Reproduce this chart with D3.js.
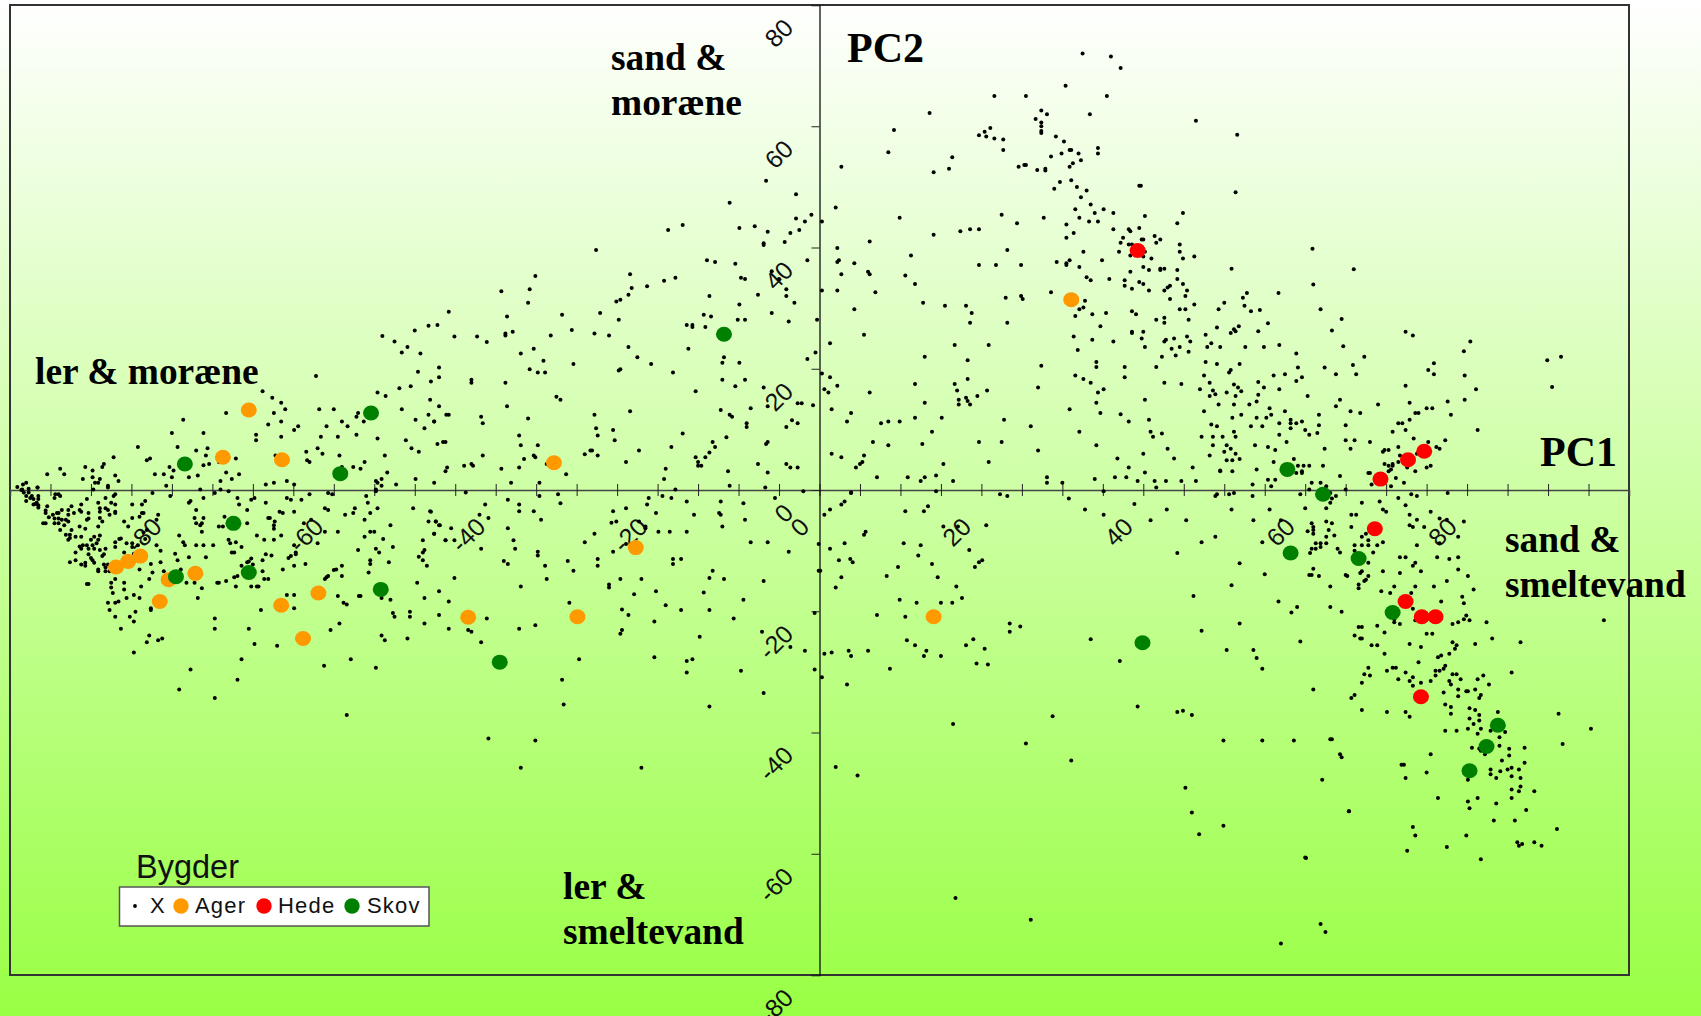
<!DOCTYPE html>
<html>
<head>
<meta charset="utf-8">
<title>Bygder PC1 PC2</title>
<script src="https://cdn.jsdelivr.net/npm/d3@7"></script>
<style>
body { margin: 0; background: #fff; overflow: hidden; }
svg { display: block; }
.lab { font-family: "Liberation Serif", serif; font-weight: bold; font-size: 37.4px; fill: #000; }
.pc { font-size: 42px; }
.tick-lab { font-family: "Liberation Sans", sans-serif; font-size: 25px; fill: #111; }
.leg { font-family: "Liberation Sans", sans-serif; font-size: 22px; letter-spacing: 1.2px; fill: #111; }
</style>
</head>
<body>
<svg id="chart" width="1701" height="1016"></svg>
<script>
// PC1, PC2
const ager = [[-70.5,13.2],[-73.7,5.4],[-66.4,5],[-32.8,4.5],[-22.7,-9.5],[-83.9,-10.9],[-85.4,-11.8],[-86.9,-12.7],[-80.4,-14.8],[-77.1,-13.75],[-81.5,-18.4],[-66.5,-19],[-61.9,-17],[-63.8,-24.5],[-43.4,-21],[-29.9,-20.9],[14.1,-20.9],[31.1,31.4]]
const hede = [[39.3,39.5],[74.7,6.4],[72.7,5],[69.3,1.8],[68.6,-6.4],[72.4,-18.4],[74.4,-20.9],[76.1,-20.9],[74.3,-34.1]]
const skov = [[-55.4,12.7],[-78.4,4.3],[-59.2,2.7],[-72.4,-5.5],[-79.5,-14.3],[-70.5,-13.6],[-54.2,-16.4],[-39.5,-28.4],[-11.8,25.7],[57.8,3.4],[62.2,-.7],[58.2,-10.4],[66.6,-11.3],[70.8,-20.2],[39.9,-25.2],[83.8,-38.8],[82.4,-42.3],[80.3,-46.3]]

const xTop = [[21.6,65],[13.6,62.2],[9.2,59.4],[19.7,58.5],[20.4,59.1],[21.1,59.7],[20.6,58.3],[21.6,58],[8.5,55.7],[16.4,54.9],[16,53],[14.1,52.4],[2.7,53.3],[-6.6,51],[-2.9,48.8],[32.5,72],[36,71.5],[37.2,69.6],[30.4,66.7],[25.5,65],[35.5,65],[27.4,62.6],[28.1,62],[26.7,61.2],[33.4,62],[27.4,60.6],[27.4,60],[27.4,59.2],[27.4,58.9],[46.5,60.9],[51.6,58.6],[22.7,57.8],[22.7,56.1],[29.2,58.3],[30.2,57.5],[34.4,56.4],[34.4,55.5],[30.9,56.1],[31.1,56.1],[29.9,55.5],[32,55.5],[28.6,55],[32.3,54.4],[31.3,53.9],[30.9,53.3],[24.6,53.3],[25.3,53.6],[25.5,53.6],[26.9,52.8],[27.9,53],[27.9,52.7],[29.7,50.8],[31.1,51.1],[29,49.7],[31.8,50],[33,49.4],[39.5,50.2],[39.7,50.2],[51.4,49.1],[32.3,48.3]]
const xUpperMid = [[2,46.6],[.3,44.3],[9.9,44.9],[22.5,45.4],[24.4,44],[27.7,44.9],[31.6,46.3],[33.5,47.1],[34,45.7],[35.1,46.3],[36.3,45.7],[32.1,44.9],[33.3,44.3],[34.4,44.3],[30.5,43.8],[40.2,45.2],[44.9,45.7],[44.2,44],[14.1,42.1],[17.4,42.7],[18.6,43],[19.7,43],[31.4,42.4],[30.5,41.6],[36.3,43],[38.2,43],[38.4,42.7],[39.5,43.2],[37.5,41.6],[37.2,40.8],[38.2,40.5],[38.6,40.5],[39.8,41.3],[40,41.3],[41.4,41.9],[42.1,41.3],[41.6,40.8],[37,39.3],[38.4,38.7],[40.2,39.3],[40,38.5],[41,38.2],[32.6,39.3],[34.9,37.9],[44.5,40.5],[44.5,39.3],[44.9,38.2],[46.3,38.5],[6.2,41],[2.2,39.9],[2.2,37.6],[2.4,37.9],[4.3,37.4],[11.3,38.7],[23.2,39.6],[19.7,37.1],[21.8,37.1],[24.9,37.1],[29.3,37.6],[30.5,37.4],[30.5,37.1],[30.9,37.9],[32.1,36.8],[40,36.8],[40.7,36.3],[42.1,36.5],[42.1,36.3],[42.6,36.5],[44.2,36.3],[38.4,36],[2.7,35.6],[6,36],[6.2,35.6],[10.6,35.4],[33,35.1],[33.5,34.6],[35.8,34.8],[37.7,34.6],[39.5,34.3],[40,34],[37.7,33.7],[38.6,33.2],[40.7,32.9],[44.2,34.8],[44.9,34],[43.3,33.7],[43,33.4],[42.6,32.9],[45.4,32.9],[45.2,32],[43.3,31.5],[46.3,30.6],[.3,32.9],[2.2,32.9],[11.8,34],[6.9,32.6],[23,31.7],[24.9,32],[25.1,31.5],[28.6,32.6],[32.8,31.2],[12.8,30.9],[15.5,30.4],[18.1,30.4],[4.3,29.8],[18.8,29.2],[18.6,27.6],[23.2,27.6],[32.1,29.8],[32.6,30.1],[31.6,28.7],[33.7,29],[35.4,29.2],[34.7,27],[38.6,29.5],[39.1,29],[44.5,29.8],[45.2,29.8],[45.6,28.1],[42.6,28.4],[42.6,27.6],[41.6,28.1],[49.3,29.8],[49.1,26.8],[5.5,25.6],[1.3,24.2],[16.7,23.9],[20.9,23.9],[31.4,25.3],[33.7,24.8],[36.3,24.5],[38.6,26.1],[38.6,25.9],[40,26.1],[39.8,25],[40.2,23.6],[42.6,24.5],[42.8,24.8],[43.8,25],[45.4,25.3],[45.8,24.5],[44.5,23.6],[43.5,23.3],[45.6,22.8],[44,22.2],[42.3,22],[47.7,25.6],[48.4,24.2],[47.9,23.6],[49.5,23.6],[31.9,23.1],[13,22],[18.3,21.4],[27.4,20.5],[34.2,21.1],[34.2,20.3],[37.7,20.3],[41.6,20.3],[47.7,21.1],[49.1,20.8],[.3,19.2],[1.3,18.6],[2.2,17.2],[.6,16.6],[1.1,16.1],[6.2,16.1],[11.8,17.5],[16.7,17.5],[18.3,18.3],[17,16.4],[20.7,16.4],[19.5,15.5],[18.1,15.2],[18.3,14.7],[17.2,14.9],[17.2,14.1],[18.6,14.1],[13,14.4],[27,16.9],[31.6,18.9],[32.6,18.3],[33.5,17.7],[35.1,16.6],[34.4,16.1],[34.2,14.4],[37.7,18.6],[40.2,14.9],[42.6,17.7],[44.7,17.5],[47.5,18.9],[48.2,17.7],[47,16.6],[48.6,16.4],[48.9,15.8],[48.2,15.5],[49.3,14.1],[47.5,13],[1.5,13.3],[3.9,12.7],[3.4,11.3],[7.6,11],[8.5,11.3],[9.9,11.3],[11.8,11.9],[15.1,11.9],[22.8,11.6],[26.1,10.5],[30.9,13.3],[34.7,12.7],[37.2,12.5],[38.2,11.3],[40.7,11.6],[13.9,9.6],[32.1,9.6],[40.9,9.6],[41.2,8.8],[42.3,9.3],[48.4,10.8],[49.1,10.5],[47.2,8.8],[48.6,8.8],[6.6,7.9],[8.5,7.4],[12.7,7.6],[19.7,7.9],[22.5,7.9],[27,6.5],[34.2,7.4],[43,6.8],[48.6,7.4],[1.5,6],[2.7,5.4],[5.5,5.7],[5.3,4.6],[5,4.3],[4.5,3.7],[15.3,4.3],[20.9,4.6],[36.8,5.2],[40,6],[43.8,5.2],[48.2,5.7],[38.2,3.7],[46.1,3.7],[49.5,3.2],[7.1,2.1],[10.9,2.1],[12.5,1.5],[13,2.1],[14.4,2.4],[16.5,1.5],[28.1,2.1],[28.1,1.2],[30,1.2],[34,1.8],[36.5,2.1],[37.9,2.1],[39.3,1.5],[40.2,2.9],[41.4,1.5],[42.8,1.5],[44.7,1.5],[46.5,1.5],[41.6,.4],[3.9,-.5],[14.4,-.2],[35.1,-.2],[22.3,-.7],[23.2,-1],[49.1,-.7],[48.9,-1]]
const xUpperRight = [[50.9,36.5],[52.8,32.5],[52.3,31.7],[52.5,30.4],[53.3,29.5],[54.4,29.7],[56.7,32.5],[55.4,27.5],[51.8,27],[50,30.9],[60.9,39.8],[66,36.4],[61,33.9],[61.9,29.8],[64.5,28.2],[72.4,26.1],[73.3,25.5],[80.4,24.5],[79.6,22.9],[89.9,21.4],[91.6,22],[90.5,17],[63.3,26.3],[51.2,26.5],[51.4,26.2],[50.8,25.9],[54.2,26.2],[64.7,23.7],[67.3,22],[56.8,23.9],[58.9,22.5],[54.9,23.6],[52.6,23.6],[51.9,20.8],[59.1,20.2],[62.4,20.2],[65.9,20.6],[63.8,19.1],[66.3,19.1],[75.9,20.9],[75.2,19.8],[75.9,19.1],[79.7,18.9],[81.1,16.6],[79.7,14.9],[77.6,14.6],[78,12.4],[81.3,9.9],[50.6,19.4],[50.8,19.8],[56.1,18.9],[57.5,19.1],[59.6,18.6],[58.9,18],[54.2,17.8],[54.9,16.9],[56.8,16.6],[51.7,16.9],[51.2,17.4],[52.1,16.3],[50.3,16.1],[51.4,15.5],[54.2,15.7],[54,14.6],[60.3,15.5],[72.4,17.2],[64.3,14.9],[63.8,13.8],[65.6,13],[66.8,12.7],[69,14.1],[72.9,14.4],[75,13.5],[75.7,13.5],[73.6,12.7],[74,12.7],[72.9,11.6],[51.2,14.1],[53.1,14.1],[55.6,13.5],[55.8,12.4],[57.5,13],[52.1,12.4],[51,11.9],[54,11.9],[55.2,11.9],[61.7,12.4],[58.2,11.6],[59.6,11.3],[58.2,11],[56.8,11],[58.9,11],[61.7,10.7],[65,10.7],[71.5,11],[72,11],[53.3,10.5],[54.7,10.5],[58.2,10.2],[60,9.9],[51.2,9.6],[70.8,9.6],[72.4,9.9],[51.4,8.8],[56.8,9.1],[60.5,9.1],[61.5,9.4],[49.8,8.8],[57.7,7.9],[65,8.2],[66.1,8.2],[68,7.9],[73.4,8.5],[77.3,8.2],[75.2,7.9],[50.3,7.4],[50.8,6.8],[53.8,7.4],[55.4,7.1],[56.3,6.6],[62.4,6.8],[65.6,6.8],[71.5,7.1],[76.2,7.1],[76.6,6.8],[50,6.3],[51.4,6],[69.6,6.3],[69.8,6.6],[70.3,6.6],[73.8,6],[71.7,5.7],[50.3,4.9],[51,4.9],[51.9,5.1],[58.6,5.1],[56.1,4.6],[59.1,4],[59.8,4],[60.5,4],[62.2,4],[69.8,4.3],[70.3,4],[70.8,4.3],[71.5,4.6],[70.8,4],[70.6,3.4],[70.3,3.1],[72.6,3.7],[73.6,3.1],[75,3.7],[75.5,4],[49.5,3.1],[51,3.1],[54,3.4],[58.9,2.8],[59.6,3.1],[59.6,2.8],[64.3,2.3],[67.8,2.8],[68,2.8],[71.2,2],[55.4,1.7],[56.3,1.7],[60.8,1.2],[61.9,1.2],[53.5,.9],[55.8,.6],[62.6,.6],[72.2,1.2],[68.2,.9],[70.6,.6],[60.5,.1],[65,.1],[50.6,-.7],[51.2,-.5],[53.5,-1],[59.4,-.7],[63.1,-.5],[63.8,-1],[63.3,-1.4],[71.5,-1.3],[73.1,-.7],[73.8,-1],[77.6,-.5]]
const xLowerRight = [[60,-3],[63.1,-2.1],[62.6,-3],[67,-2.1],[69.2,-1.9],[69.6,-3.2],[70,-3.6],[72.4,-2.5],[75.5,-3.6],[65.7,-4.1],[66.3,-4.1],[72.9,-4.1],[73.8,-4.9],[76.6,-4.7],[77.5,-4.9],[79.6,-5.2],[60.8,-5.5],[61,-6.1],[61,-6.6],[61,-7.2],[62.6,-5.2],[63.3,-5.5],[62.9,-6.6],[62.6,-7.7],[63.6,-7.5],[65.7,-6.1],[67.5,-7.2],[67,-7.7],[67.8,-8.3],[72.9,-5.8],[73.3,-6.1],[74.7,-6.1],[78.9,-7.7],[76.6,-8.8],[69.6,-8.6],[68.9,-9.1],[67.8,-9.1],[67,-9.1],[66.1,-9.1],[73.8,-9.1],[61.3,-8.8],[61.9,-8.8],[62.6,-8.8],[60.8,-9.7],[61.3,-9.7],[61.9,-9.4],[64,-9.7],[64.3,-10.3],[66.1,-10],[68.4,-10.3],[71.7,-11.1],[72.4,-11.1],[76.3,-11.1],[77.8,-11.4],[78.9,-11.1],[67.8,-12],[73.6,-12],[73.3,-12.5],[78.9,-13.1],[67,-13.4],[66.8,-13.7],[69.6,-13.4],[71.7,-13.7],[74.3,-13.4],[60.5,-14],[60.8,-14],[61.7,-14.2],[65,-14],[65.2,-14.2],[67.8,-14.2],[67.5,-14.8],[67.3,-15],[80.1,-14.2],[77.5,-15],[66.6,-15.6],[66.6,-16.2],[63.1,-15.9],[71,-15.9],[73.6,-15.9],[75.9,-15.9],[80.8,-16.4],[69.4,-16.7],[70.5,-17],[73.1,-17],[79.4,-17.6],[76.8,-18.4],[79.6,-18.7],[63.1,-19.3],[64.5,-20.1],[73.3,-19.6],[71,-21.3],[71,-21.8],[71.7,-22.1],[68.9,-22.4],[73.6,-21.5],[78.2,-22.1],[78.9,-21.8],[79.6,-21.3],[79.9,-20.7],[80.3,-21.5],[82.4,-21.8],[96.9,-21.5],[66.6,-22.6],[67,-22.6],[66.1,-24],[69.8,-23.5],[75,-23.7],[75.7,-23.7],[59.4,-25],[66.8,-24.5],[67,-24.5],[68.2,-25.6],[68.9,-25.6],[72.9,-25.4],[74.3,-25.9],[78.2,-25.1],[78.7,-25.6],[78.5,-26.2],[81,-25.4],[83.1,-24.5],[86.6,-25.1],[69.8,-27],[77.8,-27],[76.8,-27.3],[76.4,-27.6],[74,-28.4],[77.3,-29],[77.1,-29.5],[76.6,-29.8],[76.1,-29.8],[76.1,-30.6],[67.8,-29.3],[70.8,-29.3],[71.2,-29.3],[70.1,-29.8],[72.4,-30.1],[67.3,-30.4],[68,-30.6],[71.5,-31.2],[72.9,-31.5],[73.3,-30.9],[73.3,-32.3],[74.3,-31.8],[75.5,-31.5],[67,-31.8],[78.2,-30.4],[78.7,-30.4],[79.2,-31.2],[77.8,-31.5],[78,-32.1],[81.3,-31.2],[82,-30.6],[82.7,-32.1],[85.5,-30.1],[61,-32.9],[78.9,-32.9],[79.9,-33.2],[80.1,-33.2],[81,-32.9],[77.1,-33.4],[78.9,-34],[81.7,-33.8],[81.5,-34.3],[66.1,-33.8],[65.7,-34.3],[77.3,-35.4],[78,-35.8],[80.3,-36],[81,-36.3],[67,-36.3],[70.1,-36.6],[72.4,-36.6],[83.8,-36.6],[78,-36.9],[81.5,-37.1],[72.9,-37.4],[91.3,-36.9],[80.3,-37.7],[81.5,-38],[80.8,-38.6],[77.3,-39.7],[78.7,-39.7],[80.1,-39.4],[81.7,-39.4],[82.9,-39.7],[81.3,-40.2],[84.7,-39.9],[95.3,-39.4],[63.1,-41.1],[84,-40.8],[80.6,-42.5],[81.5,-42.7],[81.7,-43],[84,-42.2],[85.2,-42.7],[87.1,-42.5],[91.8,-41.9],[82.2,-43.6],[85.2,-43.8],[64.3,-43.6],[64.5,-44.1],[75.5,-43.6],[84.3,-44.6],[87.1,-45],[71.9,-45.3],[72.2,-45.3],[82.9,-46.1],[85.5,-45.8],[85,-46.1],[86.4,-46.1],[84.1,-46.4],[75,-46.6],[82.9,-46.9],[85.5,-47.2],[86.6,-47.5],[83.6,-47.5],[72.4,-47.5],[80.1,-47.8],[62.1,-47.8],[86.6,-48.9],[85.5,-49.4],[86.4,-49.7],[88.3,-49.7],[76.4,-50.8],[81.3,-50.8],[85.5,-50.8],[80.1,-51.4],[83.6,-51.7],[80.3,-52.5],[87.3,-52.8],[65.4,-53],[83.3,-54.5],[85.9,-54.5],[73.3,-55.6],[91.1,-55.9],[73.6,-57],[79.9,-57],[86.2,-58.1],[86.8,-58.4],[86.4,-58.7],[88.3,-58.1],[89.2,-58.7],[77.5,-58.9],[72.6,-59.5],[81.7,-60.9],[60,-60.6]]
const xLowerMid = [[3.9,-.4],[3.1,-1.9],[2.7,-2.4],[1.3,-3.2],[.6,-4.1],[10.6,-3.5],[12.9,-3.5],[13.4,-2.7],[15.3,-6],[17.1,-6],[20.6,-5.8],[5.7,-6.9],[5.5,-7.4],[3.1,-8.8],[1.3,-9.7],[10.4,-8.8],[12.5,-9.1],[12.2,-10.8],[18.5,-9.9],[2.4,-11.6],[3.8,-11.4],[4.1,-11.9],[13.9,-12.2],[20.1,-11.6],[19.7,-11.9],[19.2,-12.7],[9.7,-12.7],[.1,-13.3],[8.3,-14.2],[2.7,-14.4],[14.6,-14.4],[2,-16.1],[16.9,-15.9],[17.6,-17.8],[9.9,-18.1],[12,-18.6],[15,-18.6],[16.4,-18.6],[7.1,-20.6],[10.6,-20.9],[-.6,-20.3],[10.8,-24.8],[11.8,-25.6],[19,-24.6],[18.1,-25.6],[20.4,-26.2],[.6,-27],[1.5,-26.8],[3.6,-26.5],[3.9,-27.4],[6,-26.5],[13.2,-26.5],[12.9,-27.4],[15,-27.4],[3.4,-32.1],[.3,-30.9],[8.7,-29.5],[16.5,-38.6],[2,-45.7],[4.7,-47.1],[16.8,-67.3],[26.1,-70.9],[25.5,-41.8],[28.8,-37.3],[31.1,-44.6],[19.4,-28.6],[20.8,-28.8],[23.5,-22],[24.8,-22.5],[23.5,-23.4],[33.5,-24.6],[37.1,-28.2],[39.3,-35.7],[35.1,-4.1],[44.9,-36.4],[44.2,-36.6],[46,-37.1],[49.9,-41.3],[54.7,-41.3],[58.6,-41.3],[63.3,-41.1],[45.2,-49.1],[46,-53.2],[46.9,-56.8],[49.9,-55.4],[57,-74.8],[61.9,-71.6],[62.5,-72.9],[60.1,-60.7],[65.4,-53],[53.6,-26.4],[54,-27.7],[54.7,-29.5],[50.3,-26.4],[47.2,-23.2],[51.9,-22],[56.7,-18.4],[58.3,-20.2],[59,-19.3],[48.9,-7.7],[47.2,-8.6],[45.3,-5],[42.9,-3.2],[50.9,-3.2],[53.6,-5],[51.9,-12.1],[54.7,-8.6],[55,-13.9],[50.9,-15.7],[44.2,-10.4],[46.2,-17.5],[38.9,-2.3],[40.9,-5],[32.8,-3.2],[30.8,-1.4],[55.6,-3.2],[60.3,-6.8],[57,-5],[60.6,-10.4],[61,-13]]
const xUpperLeft = [[-11.1,47.4],[-2.9,44.8],[-1,45.4],[-1.8,44.3],[-2.5,42.9],[-3.6,42.4],[-4.3,40.9],[-6.4,42.6],[-8,43.5],[-9.9,43.2],[-16.9,43.7],[-18.7,42.9],[-6.9,40.7],[-6.9,40.4],[-27.6,39.6],[-13.9,37.9],[-12.9,37.6],[-10.4,37.3],[-1.5,37.9],[-23.4,35.6],[-35.1,35.3],[-17.8,35],[-19.2,34.5],[-9.7,35],[-9.2,34.8],[-5.9,36.1],[-5,34.8],[-21.3,33.6],[-23.2,33.3],[-35.8,33.1],[-39.3,32.8],[-4.1,33.1],[-23.6,32.2],[-13.6,32],[-7.6,32.2],[-4.1,32],[-24.6,31.4],[-25.1,31.1],[-36,30.9],[-9.9,30.6],[-3.1,30.9],[-45.8,29.4],[-38.6,28.6],[-31.8,28.9],[-27.1,29.2],[-14.3,28.9],[-13.4,28.6],[-5.9,29.2],[-24.8,28.1],[-10.1,28.1],[-9.2,28.1],[-3.8,27.8],[-.3,28.1],[-47.2,27.2],[-16.4,27.2],[-15.7,27.2],[-15.7,26.9],[-14.1,26.9],[-30.6,26.4],[-37.9,26.1],[-38.8,25.8],[-38.8,25.5],[-45.1,25.3],[-42.3,25.3],[-33.2,25.5],[-27.8,25.8],[-26,25.5],[-41.1,24.4],[-23.6,23.6],[-16.2,23.3],[-35.3,23.3],[-36.9,22.5],[-22.5,21.9],[-11.8,21.9],[-.5,22.7],[-1.5,21.6],[-12,21],[-9.9,21],[-34.1,21.3],[-30.4,20.8],[-20.8,20.8],[-47,20.2],[-35.8,19.9],[-34.8,19.4],[-33.9,19.4],[-24.8,19.7],[-24.6,19.9],[-18.1,19.4],[-47,18.6],[-43,18.2],[-43,17.7],[-38.8,17.7],[-12,18.2],[-9.2,18.2],[-10.4,17.1],[-6.9,16.9],[-15.3,16.3],[-32.5,15.4],[-32,14.9],[-48.1,14.9],[-47,13.8],[-38.6,13.8],[-2.7,14.3],[-2.2,14.3],[-.8,14],[-6.4,13.8],[-8.5,13.5],[-12.2,13.2],[-23.4,13],[-46.1,12.4],[-45.8,12.4],[-41.8,12.1],[-36,11.8],[-27.8,12.4],[-11.1,12.4],[-10.8,12.1],[-47.6,11.3],[-41.6,11],[-9,11],[-9,10.4],[-3.4,11.5],[-2.7,11],[-4.1,10.4],[-27.6,10.2],[-25.5,9.9],[-37.1,9],[-27.4,9],[-16.9,9.3],[-11.5,8.7],[-25.3,8.2],[-13.2,7.9],[-6.4,7.9],[-6.6,7.6],[-47.2,7.6],[-46.5,7.9],[-46.2,7.9],[-36.9,7.4],[-34.8,7.4],[-18.3,7.1],[-12.9,7.1],[-28.3,6.5],[-28.1,6.5],[-22.3,6.5],[-13.6,6.2],[-29,5.9],[-41.6,5.7],[-35.3,5.7],[-35.1,5.4],[-27.4,5.7],[-15.3,5.4],[-14.1,5.4],[-36.5,5.1],[-15,4.6],[-23.9,4.6],[-33.7,4.3],[-43,4.3],[-42.8,4],[-43.9,4],[-46,3.7],[-37.1,3.7],[-39.3,3.5],[-46.2,3.1],[-15,4],[-14.6,4],[-7.6,4.3],[-4.1,4.3],[-3.6,3.7],[-2.7,3.7],[-19,3.5],[-11.3,3.1],[-6.4,2.9],[-31.3,2.6],[-19.2,1.8],[-11.1,.7],[-47.6,1.2],[-38.1,1.2],[-34.6,1.2],[-6.7,.4],[-17.8,.1]]
const xLowerLeft = [[-43.7,-.4],[-34.6,-1],[-32.3,-.7],[-19.4,-1],[-18.3,-1.3],[-21.1,-1.3],[-5.5,-1.3],[-2,-.2],[-38.5,-1.6],[-41.3,-2.4],[-37.1,-2.4],[-32,-2.2],[-21.3,-2.4],[-16.4,-1.9],[-12.2,-1.9],[-9.4,-2.2],[-23.9,-3],[-48.1,-3.5],[-37.1,-3.5],[-35.3,-3.5],[-25.5,-3.5],[-20.2,-3.8],[-15.5,-4.1],[-12.4,-3.8],[-12.2,-4.1],[-42,-4.1],[-40.9,-4.6],[-34.4,-4.9],[-47.4,-5.2],[-47,-5.8],[-25.7,-5.4],[-25.1,-5.2],[-22.3,-5.2],[-9.2,-4.9],[-45.5,-6.3],[-38.5,-6.3],[-21.5,-6],[-21.5,-6.3],[-12,-6],[-47.6,-7.2],[-27.8,-7.2],[-19.9,-6.9],[-18.5,-6.9],[-16.4,-6.9],[-46.2,-8.3],[-45.1,-8.3],[-37.8,-8.3],[-29,-8.6],[-23.9,-8.9],[-8.5,-8.6],[-6.4,-8.6],[-.1,-8.9],[-41.8,-9.7],[-37.6,-9.7],[-34.8,-10.2],[-34.8,-10.8],[-25.5,-10.2],[-3.8,-10.2],[-31.1,-11.7],[-27.4,-11.4],[-18.1,-11.4],[-17.1,-11.4],[-39,-11.7],[-38.5,-12.2],[-33.9,-12.5],[-27.4,-12.5],[-18.1,-12.2],[-30.4,-13.3],[-13.2,-13.3],[-.1,-13.3],[-45.1,-14.5],[-33.7,-14.7],[-24.6,-14.7],[-22,-14.7],[-13.6,-14.5],[-11.8,-14.7],[-6.9,-15],[-26,-15.6],[-26,-16.1],[-36.9,-15.9],[-47,-16.7],[-20.2,-16.7],[-22.9,-17.2],[-14.3,-16.9],[-9.4,-18.1],[-45.8,-18.4],[-30.9,-18.6],[-19,-19],[-24.4,-19.7],[-17.1,-19.8],[-13.6,-19.8],[-47,-20.6],[-23.6,-20.6],[-41.1,-21.2],[-10.6,-21.2],[-20.4,-21.7],[-45.8,-22.9],[-37.1,-22.9],[-35.1,-22.3],[-43.4,-23.1],[-43,-23.4],[-24.4,-23.1],[-24.6,-23.7],[-7.1,-23.4],[-14.8,-24.2],[-41.8,-25.1],[-3.6,-25.9],[-1.8,-26.5],[-20.4,-27.6],[-29.7,-27.9],[-16.4,-28.2],[-15.7,-27.9],[-16.4,-30.1],[-9.7,-29.8],[-.6,-29.6],[-31.8,-31.3],[-6.9,-33.5],[-31.6,-35.4],[-13.6,-35.7],[-40.9,-41],[-35.1,-41.3],[-36.9,-45.8],[-22,-45.8]]
const xFarUpper = [[-54,25.4],[-52.5,24.5],[-50.9,23.6],[-62.2,18.8],[-68.8,16.3],[-67.6,15.2],[-53.6,15.5],[-54.6,16.1],[-51.9,16.8],[-50.5,17.1],[-49.6,19.5],[-48,17.9],[-48.3,27.1],[-49.3,22.5],[-50,26.3],[-51.6,22.7],[-66.5,14.4],[-66,13.3],[-67.4,12.7],[-73.3,12.7],[-78.6,11.6],[-66.5,11.3],[-68.1,10.8],[-64.4,10.5],[-64.9,9.9],[-69.6,9.1],[-69.6,8.2],[-66.5,8.8],[-80,9.4],[-76.1,9.4],[-79.3,7.1],[-84.2,7.1],[-77,6.5],[-75.6,6.9],[-75.8,5.7],[-87.2,5.4],[-82.7,5.2],[-83.1,4.9],[-75.4,4.3],[-76.1,4.1],[-74.2,4.6],[-72.1,5.2],[-67.2,5.7],[-88.4,4.3],[-88.6,3.8],[-90.7,3.8],[-93.8,3.5],[-89.8,3.2],[-80.3,3.8],[-79.8,3.2],[-95.4,2.6],[-93.3,2.6],[-82.1,2.6],[-81,2.6],[-73.3,2.9],[-71.7,2.6],[-87,2.4],[-89.8,2.1],[-80,2.1],[-77.9,2.1],[-76.8,2.4],[-91,1.8],[-88.9,1.8],[-86.6,1.5],[-72.6,1.8],[-74,1.5],[-89.5,1.2],[-89.1,1.2],[-67.4,1.2],[-65.8,1.5],[-68.4,.9],[-64.9,.9],[-87.9,.7],[-87.9,.4],[-80.7,.7],[-96.6,.4],[-74,.1],[-76.5,.1],[-89.7,.1],[-61.8,13.3],[-60,13.3],[-59,11.3],[-58.3,10.5],[-60.9,10.5],[-61.6,8.8],[-59.5,8.8],[-57.2,9.1],[-54.6,8.5],[-57,12.7],[-57.2,12.1],[-56.3,11.3],[-51.6,13.3],[-49.9,11.6],[-48.8,10.2],[-48.3,12.4],[-47.6,11.3],[-51.1,8.2],[-50.4,6.9],[-49.5,6.3],[-62,6.9],[-61.4,6],[-63.4,6.3],[-63.3,4.9],[-63,4.6],[-59.3,5.7],[-53.7,5.7],[-56.2,4.6],[-59,3.8],[-57.6,3.8],[-56.7,3.5],[-53.4,2.9],[-49.9,1.8],[-54.1,1.8],[-54.8,1.5],[-54.6,1.2],[-54.1,.7],[-52.3,.9],[-54.8,.1]]
const xCorner = [[-99.1,.5],[-98.4,.9],[-98,1.2],[-98.5,.1],[-97.7,.2],[-97.7,-.4],[-97.3,-1],[-97.1,-1.5],[-96.5,-1],[-96.5,-1.5],[-96.9,-2.3],[-96.5,-2.9],[-98,-1.8],[-96.6,.4],[-98.6,0],[-98.3,-.4],[-98,-1],[-97.5,-1.3],[-96.7,-2.1],[-97.1,-2.4],[-96.5,-2.5],[-87.2,-1],[-87,-.7],[-94.4,-.7],[-94,-.7],[-93.8,-1],[-94.5,-1.3],[-90.5,-1.5],[-89.1,-2.1],[-88.2,-1.3],[-87.5,-2.1],[-87,-2.4],[-91.2,-2.4],[-92.4,-2.7],[-95.4,-2.7],[-95.6,-3.4],[-95.6,-3.8],[-93.6,-3.3],[-92.8,-3.3],[-92.1,-3.8],[-92.8,-4.1],[-94.7,-4.1],[-95.2,-4.5],[-94.2,-3.8],[-94,-3.8],[-91.4,-3.3],[-91.2,-3.6],[-88.9,-3],[-88.9,-3.6],[-88.2,-3],[-87.9,-3.3],[-87,-3.6],[-87,-3.8],[-87.7,-4.1],[-90.3,-3.8],[-90.3,-4.7],[-90.5,-4.9],[-88.9,-4.6],[-88.6,-5.2],[-94.5,-4.7],[-94,-4.7],[-93.6,-4.9],[-93.1,-4.9],[-92.8,-5.2],[-94,-5.5],[-94.5,-5.5],[-95.6,-5.5],[-95.9,-5.5],[-91.4,-6],[-93.3,-5.8],[-90.7,-6.4],[-89.1,-6],[-93.8,-6.6],[-92.4,-6.6],[-93.1,-7.4],[-92.6,-7.4],[-91.2,-7.7],[-91.9,-7.7],[-92.8,-8.2],[-92.6,-7.9],[-88.9,-7.5],[-89.6,-7.7],[-90,-8.2],[-89.1,-8.2],[-91,-9.1],[-91.4,-9.3],[-91.2,-9.7],[-90.5,-9.1],[-89.8,-9.1],[-89.3,-8.8],[-90.3,-9.7],[-89.6,-9.7],[-88.9,-9.9],[-88.2,-9.7],[-91.9,-10.3],[-90.3,-10.6],[-90,-11.2],[-88.4,-10.6],[-88.6,-10.9],[-91.9,-11.6],[-92.6,-11.9],[-91.2,-12.3],[-90.7,-12],[-90.7,-12.5],[-89.8,-11.6],[-89.6,-12],[-89.1,-13.1],[-89.1,-13.4],[-88.4,-12.3],[-87.9,-12.3],[-88.2,-12.8],[-88.2,-13.4],[-87.7,-13.4],[-90.5,-15.5],[-90.3,-15.5]]
const xFarLower = [[-87,-14.7],[-87.5,-15.3],[-85.9,-15.3],[-87.5,-16.1],[-85.9,-16.4],[-87.3,-17],[-84.7,-17.3],[-85.6,-17.8],[-84,-17.8],[-87,-18.6],[-86.6,-18.4],[-87.9,-18.6],[-87.7,-19.8],[-84.5,-20.1],[-87,-20.9],[-85.2,-20.9],[-84.7,-21.7],[-86.3,-22.9],[-82.6,-19.5],[-82.6,-19.8],[-82.8,-24],[-83.1,-25.1],[-81.7,-24.8],[-81.2,-24.5],[-84.7,-26.8],[-77.7,-29.6],[-79.1,-32.9],[-74.7,-21.2],[-74.7,-22.9],[-71.4,-27.9],[-71.9,-31.3],[-74.7,-34.3],[-70.5,-22.9],[-69.8,-25.4],[-67,-25.7],[-61.2,-29],[-57.9,-27.9],[-54.8,-29.3],[-58.4,-37.1],[-60.4,-23.1],[-59.3,-22],[-54.1,-24],[-53.7,-24.8],[-50.9,-24.5],[-48.8,-22],[-59.5,-17.5],[-58.8,-18.6],[-58.4,-18.9],[-56.9,-17.5],[-56.7,-17.5],[-54.1,-17.8],[-53,-18.1],[-52.7,-20.3],[-52.5,-20.9],[-50.6,-20.1],[-50.6,-20.9],[-48.8,-17.8],[-49.7,-15.3],[-65.8,-17.3],[-64.9,-17.3],[-64.9,-19.5],[-69,-19.8],[-76.8,-17.8],[-77.2,-15.3],[-76.3,-16.2],[-78.2,-15.3],[-74.4,-15.3],[-74.2,-15.3],[-73.3,-15],[-72.3,-14.4],[-71.9,-14.2],[-72.1,-15.9],[-70.2,-15.9],[-69.5,-15.9],[-69.3,-15.9],[-68.6,-14.7],[-68.1,-14.7],[-68.8,-13.4],[-68.8,-11.6],[-66.3,-13.1],[-64.9,-12.5],[-63.5,-12.2],[-70,-12.3],[-70.7,-11.9],[-70.2,-11.3],[-70.5,-11.8],[-71.4,-12.5],[-61.1,-14.7],[-60.9,-14.4],[-60.7,-14.2],[-60,-13.2],[-59.7,-13.1],[-59,-12.5],[-59,-14.2],[-55.5,-11.6],[-55.5,-12.2],[-55.7,-13.6],[-53.2,-11.9],[-54.8,-9.7],[-54.4,-10.3],[-52.7,-9.4],[-53.9,-8.1],[-56.2,-7.7],[-55.5,-6.9],[-55,-6.9],[-57,-9.9],[-59.5,-6.9],[-61.1,-6.9],[-62,-8.8],[-62.8,-4.9],[-63.7,-5.5],[-64.9,-9.1],[-64.7,-10.3],[-64.7,-10.6],[-65.3,-10.9],[-65.6,-11.2],[-66.5,-7.5],[-67.4,-8.2],[-68.6,-8.2],[-69.5,-7.5],[-68.4,-10.6],[-67.7,-10.8],[-67.3,-5.2],[-67.4,-5.8],[-67.4,-6.4],[-68.1,-4.6],[-67.9,-4.6],[-66.7,-3.6],[-66.3,-3.8],[-64.9,-3.6],[-68.4,-2.1],[-70.7,-3.3],[-70.7,-5.5],[-71.7,-2.4],[-71.9,-1.3],[-70.2,-1.6],[-69.8,-1.3],[-65.8,-1.3],[-65.3,-1.6],[-64,-1.6],[-63,-.7],[-60.7,-.5],[-60.2,-.7],[-56,-1],[-54.8,-.2],[-61.1,-3],[-60.7,-3.3],[-58.6,-4.1],[-57.6,-3.8],[-57.4,-3],[-56.2,-4.9],[-55.8,-2.1],[-55.5,-3.8],[-54.6,-3],[-53,-5.8],[-50.2,-3],[-48,-3.6],[-48.3,-5.2],[-47.4,-5.2],[-46.9,-5.8],[-47.6,-7.2],[-49,-8.3],[-46.2,-8.3],[-48.8,-9.9],[-49,-10.3],[-49.5,-11],[-49,-11.6],[-48.5,-12.5],[-84.9,-2.4],[-83.7,-2.4],[-83.3,-1.8],[-83.7,-3.8],[-83.5,-3.8],[-84.9,-4.6],[-84,-4.4],[-81.7,-4.1],[-81.9,-4.9],[-85.9,-5.2],[-85.4,-6],[-80.2,-1],[-82.4,-.5],[-77.9,-2.1],[-77.7,-1.8],[-76.1,-1.3],[-74.7,-.5],[-73,-.2],[-77,-3.3],[-77.2,-4.6],[-77,-5.5],[-76.3,-5.5],[-76.5,-5.8],[-76.1,-4.6],[-76.3,-6.9],[-74.2,-6],[-73.7,-6],[-73.5,-4.4],[-79.1,-7.5],[-78.6,-8.6],[-78.4,-9.1],[-77,-9.1],[-76.1,-9.1],[-74.9,-9.1],[-73,-8.2],[-72.8,-8.8],[-72.1,-8.6],[-71.4,-9.4],[-72.6,-10.3],[-72.3,-10.3],[-79.6,-10.5],[-77.9,-11.1],[-75.8,-11.1],[-79.3,-11.6],[-78.9,-13.1],[-81.4,-10],[-81.9,-9.1],[-82.6,-12.2],[-81.4,-11.9],[-84,-13.1],[-82.4,-13.6],[-81,-13.4],[-82.8,-14.7],[-83.8,-15.9],[-87,-8.6],[-87,-9.4],[-86.5,-8.1],[-86.3,-8],[-84.9,-8.8],[-84.9,-9.4],[-85.6,-8.8],[-84.2,-9.1],[-85.9,-10.3],[-85.4,-10.9],[-84.7,-10.5],[-83.5,-7],[-83.1,-6.6],[-83.3,-8.1]]

const xPoints = [].concat(xTop, xUpperMid, xUpperRight, xLowerRight, xLowerMid, xUpperLeft, xLowerLeft, xFarUpper, xCorner, xFarLower)

const pc1Ticks = d3.range(-95, 100, 5)
const pc2Ticks = d3.range(-80, 100, 20)
const pc1Labels = [-80, -60, -40, -20, 0, 20, 40, 60, 80]
const pc2Labels = [-80, -60, -40, -20, 0, 20, 40, 60, 80]

const legendItems = [
    { name: 'X', r: 1.9, color: '#000', cx: 135, tx: 150 },
    { name: 'Ager', r: 7.7, color: '#ff9900', cx: 181, tx: 195 },
    { name: 'Hede', r: 7.7, color: '#ff0000', cx: 264, tx: 278 },
    { name: 'Skov', r: 7.7, color: '#008000', cx: 352, tx: 367 }
]

const svg = d3.select('#chart')

// page background
const grad = svg.append('defs').append('linearGradient')
    .attr('id', 'bg').attr('x1', 0).attr('y1', 0).attr('x2', 0).attr('y2', 1)
grad.append('stop').attr('offset', '0%').attr('stop-color', '#ffffff')
grad.append('stop').attr('offset', '100%').attr('stop-color', '#99ff44')
svg.append('rect').attr('width', 1701).attr('height', 1016).attr('fill', 'url(#bg)')

const x = d3.scaleLinear().domain([-100, 100]).range([10, 1629])
const y = d3.scaleLinear().domain([-80, 80]).range([975, 5])

// frame
svg.append('rect')
    .attr('x', x(-100)).attr('y', y(80))
    .attr('width', x(100) - x(-100)).attr('height', y(-80) - y(80))
    .attr('fill', 'none').attr('stroke', '#333').attr('stroke-width', 2)

// axes
const xAxis = svg.append('g').attr('transform', `translate(0,${y(0)})`)
    .call(d3.axisBottom(x).tickValues(pc1Ticks).tickSize(6).tickFormat(''))
xAxis.select('.domain').attr('stroke', '#444').attr('stroke-width', 1.5)
xAxis.selectAll('.tick line').attr('y1', -6).attr('stroke', '#222').attr('stroke-width', 1)

const yAxis = svg.append('g').attr('transform', `translate(${x(0)},0)`)
    .call(d3.axisLeft(y).tickValues(pc2Ticks).tickSize(8).tickFormat(''))
yAxis.select('.domain').attr('stroke', '#111').attr('stroke-width', 1.3)
yAxis.selectAll('.tick line').attr('stroke', '#222').attr('stroke-width', 1)

// tick labels, rotated
svg.selectAll('.pc1-lab').data(pc1Labels).join('text')
    .attr('class', 'tick-lab pc1-lab')
    .attr('text-anchor', 'end')
    .attr('dominant-baseline', 'central')
    .attr('transform', d => `translate(${x(d) - 15},${y(0) + 32}) rotate(-45)`)
    .text(d => d)

svg.selectAll('.pc2-lab').data(pc2Labels).join('text')
    .attr('class', 'tick-lab pc2-lab')
    .attr('text-anchor', 'end')
    .attr('dominant-baseline', 'central')
    .attr('transform', d => `translate(${x(0) - 31},${y(d) + 18}) rotate(-45)`)
    .text(d => d)

// points
svg.append('g').selectAll('circle').data(xPoints).join('circle')
    .attr('cx', d => x(d[0])).attr('cy', d => y(d[1])).attr('r', 2).attr('fill', '#000')

const groups = [[ager, '#ff9900'], [hede, '#ff0000'], [skov, '#008000']]
groups.forEach(([pts, color]) => {
    svg.append('g').selectAll('ellipse').data(pts).join('ellipse')
        .attr('cx', d => x(d[0])).attr('cy', d => y(d[1]))
        .attr('rx', 8).attr('ry', 7.5).attr('fill', color)
})

// region labels
const regionLabels = [
    ['sand &', 611, 70], ['moræne', 611, 115],
    ['ler & moræne', 35, 384],
    ['ler &', 563, 899], ['smeltevand', 563, 944],
    ['sand &', 1505, 552], ['smeltevand', 1505, 597]
]
svg.selectAll('.region').data(regionLabels).join('text')
    .attr('class', 'lab region')
    .attr('x', d => d[1]).attr('y', d => d[2])
    .text(d => d[0])

svg.append('text').attr('class', 'lab pc').attr('x', 847).attr('y', 62).text('PC2')
svg.append('text').attr('class', 'lab pc').attr('x', 1540).attr('y', 466).text('PC1')

// legend
svg.append('text').attr('x', 136).attr('y', 878)
    .style('font-family', '"Liberation Sans", sans-serif').style('font-size', '32.5px').attr('fill', '#111')
    .text('Bygder')
svg.append('rect').attr('x', 119.5).attr('y', 887).attr('width', 309.5).attr('height', 39)
    .attr('fill', '#fff').attr('stroke', '#555').attr('stroke-width', 1.5)
const leg = svg.append('g').selectAll('g').data(legendItems).join('g')
leg.append('circle').attr('cx', d => d.cx).attr('cy', 906).attr('r', d => d.r).attr('fill', d => d.color)
leg.append('text').attr('class', 'leg').attr('x', d => d.tx).attr('y', 913).text(d => d.name)
</script>
</body>
</html>
